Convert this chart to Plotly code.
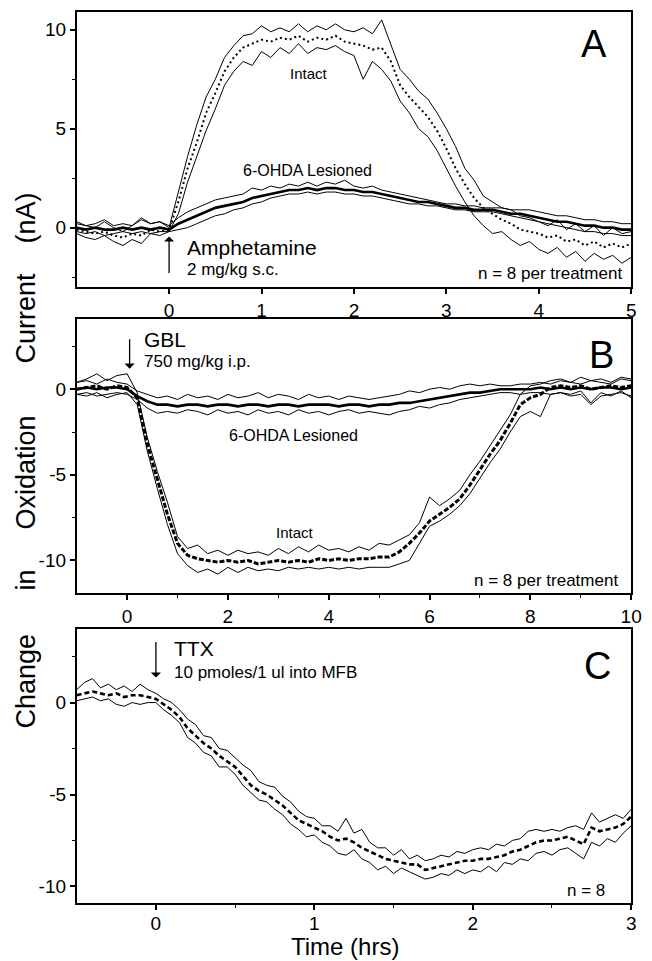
import plotly.graph_objects as go

# ---------------- Panel A (Amphetamine) ----------------
TIME_A = [-1.0,-0.9,-0.8,-0.7,-0.6,-0.5,-0.4,-0.3,-0.2,-0.1,0.0,
          0.1,0.2,0.3,0.4,0.5,0.6,0.7,0.8,0.9,1.0,
          1.1,1.2,1.3,1.4,1.5,1.6,1.7,1.8,1.9,2.0,
          2.1,2.2,2.3,2.4,2.5,2.6,2.7,2.8,2.9,3.0,
          3.1,3.2,3.3,3.4,3.5,3.6,3.7,3.8,3.9,4.0,
          4.1,4.2,4.3,4.4,4.5,4.6,4.7,4.8,4.9,5.0]
A_INTACT_MEAN = [-0.1,-0.2,-0.3,-0.2,-0.4,-0.5,-0.3,-0.4,-0.1,-0.2,-0.1,
                 1.3,3.0,4.3,5.8,6.8,7.9,8.6,9.1,9.3,9.5,
                 9.4,9.6,9.5,9.7,9.4,9.6,9.5,9.7,9.4,9.3,
                 9.2,9.0,9.1,8.4,7.2,6.6,6.1,5.6,4.9,4.0,
                 3.0,2.2,1.5,1.0,0.7,0.4,0.2,-0.1,-0.2,-0.3,
                 -0.5,-0.4,-0.7,-0.6,-0.9,-0.7,-1.0,-0.8,-1.0,-0.8]
A_INTACT_UP = [0.2,0.1,0.0,0.3,0.0,-0.2,0.1,0.4,0.2,0.3,0.0,
               1.8,3.6,5.2,6.6,7.5,8.6,9.2,9.7,9.8,10.2,
               9.9,10.1,9.9,10.3,9.9,10.2,10.0,10.3,10.0,9.9,
               10.1,9.8,10.5,9.2,8.0,7.5,6.9,6.5,5.8,5.0,
               4.1,3.0,2.4,1.6,1.3,1.0,0.9,0.6,0.5,0.3,
               0.1,0.4,-0.1,0.2,-0.2,0.1,-0.4,0.0,-0.3,-0.2]
A_INTACT_LO = [-0.3,-0.5,-0.6,-0.4,-0.7,-0.9,-0.6,-0.8,-0.3,-0.4,-0.2,
               0.7,2.3,3.6,4.9,6.0,7.2,7.9,8.4,8.2,8.9,
               8.6,9.1,8.8,9.3,8.8,9.1,9.0,9.2,8.9,8.7,
               7.5,8.4,8.0,7.4,6.4,5.8,5.0,4.6,3.9,3.0,
               2.1,1.3,0.6,0.1,-0.3,-0.2,-0.6,-0.9,-0.7,-1.1,
               -1.3,-1.0,-1.5,-1.2,-1.7,-1.3,-1.6,-1.4,-1.8,-1.5]
A_LES_MEAN = [0.0,-0.1,0.0,-0.1,-0.1,0.0,-0.1,0.0,-0.1,0.0,-0.1,
              0.2,0.4,0.6,0.8,1.0,1.1,1.2,1.3,1.5,1.6,
              1.7,1.8,1.9,1.9,2.0,1.9,2.0,2.0,1.9,1.9,
              1.8,1.8,1.7,1.6,1.5,1.4,1.3,1.3,1.2,1.1,
              1.0,1.0,0.9,0.9,0.9,0.8,0.7,0.7,0.6,0.5,
              0.4,0.3,0.3,0.2,0.1,0.1,0.0,0.0,-0.1,-0.1]
A_LES_UP = [0.3,0.1,0.2,0.4,0.1,0.2,0.1,0.5,0.2,0.3,0.1,
            0.5,0.8,1.0,1.2,1.4,1.5,1.6,1.7,2.0,1.9,
            2.1,2.0,2.2,2.1,2.3,2.1,2.3,2.2,2.4,2.1,
            2.0,2.1,1.9,1.8,1.7,1.6,1.5,1.4,1.3,1.2,
            1.2,1.1,1.1,1.0,1.0,1.0,0.9,0.9,0.9,0.8,
            0.7,0.6,0.6,0.5,0.4,0.4,0.3,0.3,0.2,0.2]
A_LES_LO = [-0.2,-0.3,-0.2,-0.4,-0.3,-0.2,-0.3,-0.2,-0.3,-0.2,-0.2,
            -0.1,0.0,0.2,0.4,0.6,0.7,0.9,1.0,1.2,1.3,
            1.5,1.6,1.7,1.7,1.8,1.7,1.8,1.8,1.7,1.7,
            1.6,1.6,1.5,1.4,1.3,1.2,1.2,1.1,1.1,1.0,
            0.9,0.9,0.8,0.8,0.8,0.7,0.6,0.5,0.4,0.3,
            0.2,0.1,0.0,-0.1,-0.2,-0.2,-0.3,-0.3,-0.4,-0.4]

# ---------------- Panel B (GBL) ----------------
TIME_B = [-1.0,-0.8,-0.6,-0.4,-0.2,0.0,
          0.2,0.4,0.6,0.8,1.0,1.2,1.4,1.6,1.8,2.0,
          2.2,2.4,2.6,2.8,3.0,3.2,3.4,3.6,3.8,4.0,
          4.2,4.4,4.6,4.8,5.0,5.2,5.4,5.6,5.8,6.0,
          6.2,6.4,6.6,6.8,7.0,7.2,7.4,7.6,7.8,8.0,
          8.2,8.4,8.6,8.8,9.0,9.2,9.4,9.6,9.8,10.0]
B_INTACT_MEAN = [0.0,0.1,0.2,0.0,0.2,0.1,
                 -0.5,-3.2,-5.3,-7.3,-9.0,-9.7,-9.9,-10.0,-10.1,-10.0,
                 -10.1,-10.0,-10.2,-10.1,-10.0,-10.1,-10.0,-10.1,-9.9,-10.0,
                 -9.9,-10.0,-9.9,-9.9,-9.8,-9.8,-9.5,-9.0,-8.4,-7.7,
                 -7.3,-6.9,-6.4,-5.6,-4.7,-3.8,-3.0,-2.0,-0.9,-0.5,
                 -0.3,0.1,0.2,0.1,0.2,0.0,0.1,0.2,0.1,0.2]
B_INTACT_UP = [0.4,0.6,0.9,0.5,0.8,0.9,
               -0.2,-2.8,-4.8,-6.6,-8.6,-9.3,-9.1,-9.6,-9.4,-9.7,
               -9.4,-9.6,-9.5,-9.7,-9.3,-9.6,-9.2,-9.5,-9.1,-9.4,
               -9.3,-9.5,-9.2,-9.4,-9.0,-9.1,-8.8,-8.5,-7.8,-6.3,
               -6.8,-6.4,-5.9,-5.0,-4.2,-3.3,-2.4,-1.5,-0.3,0.2,
               0.3,0.5,0.6,0.4,0.7,0.5,0.6,0.4,0.7,0.6]
B_INTACT_LO = [-0.3,-0.4,-0.2,-0.5,-0.3,-0.2,
               -0.9,-3.6,-5.8,-7.9,-9.6,-10.3,-10.7,-10.5,-10.8,-10.4,
               -10.7,-10.4,-10.6,-10.5,-10.6,-10.4,-10.5,-10.4,-10.5,-10.4,
               -10.5,-10.4,-10.5,-10.4,-10.4,-10.4,-10.2,-10.0,-9.0,-8.0,
               -7.7,-7.3,-6.8,-6.1,-5.2,-4.3,-3.5,-2.5,-1.6,-1.3,
               -1.6,-0.3,-0.2,-0.3,-0.1,-0.8,-0.2,-0.4,-0.1,-0.5]
B_LES_MEAN = [0.0,0.1,0.0,0.1,0.1,0.0,
              -0.4,-0.7,-0.9,-0.9,-1.0,-0.9,-0.9,-1.0,-0.9,-0.9,
              -1.0,-0.9,-0.9,-1.0,-0.9,-0.9,-1.0,-0.9,-0.9,-0.9,
              -1.0,-0.9,-0.9,-1.0,-0.9,-0.9,-0.8,-0.8,-0.7,-0.6,
              -0.5,-0.4,-0.3,-0.2,-0.2,-0.1,0.0,0.0,0.0,0.0,
              0.1,0.0,0.1,0.0,0.1,0.0,0.1,0.1,0.0,0.1]
B_LES_UP = [0.4,0.5,0.3,0.6,0.4,0.3,
            -0.1,-0.3,-0.5,-0.4,-0.6,-0.3,-0.5,-0.4,-0.6,-0.3,
            -0.5,-0.4,-0.2,-0.5,-0.3,-0.4,-0.6,-0.3,-0.5,-0.4,
            -0.6,-0.4,-0.5,-0.6,-0.5,-0.4,-0.3,-0.1,-0.2,0.0,
            0.1,0.0,0.2,0.3,0.2,0.3,0.2,0.2,0.3,0.3,
            0.4,0.3,0.5,0.4,0.3,0.5,0.4,0.3,0.6,0.5]
B_LES_LO = [-0.3,-0.2,-0.4,-0.3,-0.2,-0.3,
            -0.6,-1.1,-1.4,-1.3,-1.4,-1.2,-1.3,-1.5,-1.2,-1.4,
            -1.3,-1.5,-1.2,-1.4,-1.3,-1.5,-1.2,-1.4,-1.3,-1.5,
            -1.3,-1.2,-1.4,-1.3,-1.4,-1.5,-1.3,-1.2,-1.0,-1.1,
            -0.9,-0.8,-0.6,-0.5,-0.4,-0.3,-0.2,-0.2,-0.3,-0.2,
            -0.2,-0.3,-0.2,-0.4,-0.3,-0.9,-0.4,-0.3,-0.2,-0.4]

# ---------------- Panel C (TTX) ----------------
TIME_C = [-0.5,-0.45,-0.4,-0.35,-0.3,-0.25,-0.2,-0.15,-0.1,-0.05,0.0,
          0.05,0.1,0.15,0.2,0.25,0.3,0.35,0.4,0.45,0.5,
          0.55,0.6,0.65,0.7,0.75,0.8,0.85,0.9,0.95,1.0,
          1.05,1.1,1.15,1.2,1.25,1.3,1.35,1.4,1.45,1.5,
          1.55,1.6,1.65,1.7,1.75,1.8,1.85,1.9,1.95,2.0,
          2.05,2.1,2.15,2.2,2.25,2.3,2.35,2.4,2.45,2.5,
          2.55,2.6,2.65,2.7,2.75,2.8,2.85,2.9,2.95,3.0]
C_MEAN = [0.4,0.5,0.6,0.5,0.4,0.5,0.3,0.4,0.4,0.3,0.2,
          -0.1,-0.4,-0.8,-1.4,-1.8,-2.2,-2.5,-2.9,-3.2,-3.5,
          -4.0,-4.5,-4.8,-5.0,-5.3,-5.6,-6.0,-6.4,-6.6,-6.8,
          -7.0,-7.3,-7.5,-7.4,-7.6,-7.9,-8.1,-8.3,-8.5,-8.6,
          -8.7,-8.8,-8.8,-9.1,-9.0,-8.9,-8.8,-8.7,-8.6,-8.6,
          -8.5,-8.5,-8.4,-8.3,-8.1,-8.0,-7.8,-7.6,-7.5,-7.5,
          -7.4,-7.3,-7.5,-7.7,-6.8,-7.0,-6.9,-6.8,-6.6,-6.2]
C_UP = [0.7,1.1,1.3,0.8,1.0,0.7,0.9,0.6,1.0,0.7,0.5,
        0.2,0.0,-0.4,-0.9,-1.2,-1.8,-1.9,-2.5,-2.6,-3.0,
        -3.4,-3.7,-4.3,-4.5,-4.6,-5.1,-5.4,-5.9,-6.2,-6.3,
        -6.7,-6.7,-7.0,-6.3,-7.1,-6.9,-7.6,-7.9,-7.9,-8.3,
        -8.0,-8.5,-8.3,-8.6,-8.5,-8.3,-8.4,-8.1,-8.2,-8.0,
        -7.9,-8.0,-7.7,-7.8,-7.5,-7.4,-7.0,-6.9,-7.0,-6.9,
        -7.0,-6.8,-6.7,-6.9,-6.0,-6.5,-6.3,-6.1,-6.3,-5.8]
C_LO = [0.1,0.2,0.3,0.1,0.2,-0.1,-0.2,0.0,-0.1,0.0,0.0,
        -0.4,-0.7,-1.1,-1.9,-2.2,-2.7,-2.9,-3.5,-3.5,-3.9,
        -4.5,-4.9,-5.3,-5.4,-5.8,-6.1,-6.6,-6.9,-7.3,-7.2,
        -7.6,-7.8,-8.2,-8.3,-8.0,-8.5,-8.7,-9.1,-8.9,-9.3,
        -9.0,-9.2,-9.4,-9.6,-9.5,-9.3,-9.4,-9.1,-9.3,-9.1,
        -9.2,-8.9,-9.2,-8.7,-8.8,-8.5,-8.6,-8.2,-8.1,-8.3,
        -8.0,-7.9,-8.2,-8.5,-7.6,-7.8,-7.4,-7.6,-7.1,-6.7]

# tick labels
A_XTICKS = [0, 1, 2, 3, 4, 5]
A_YTICKS = [0, 5, 10]
B_XTICKS = [0, 2, 4, 6, 8, 10]
B_YTICKS = [-10, -5, 0]
C_XTICKS = [0, 1, 2, 3]
C_YTICKS = [-10, -5, 0]

FONT = "Liberation Sans, Arial, Helvetica, sans-serif"
W, H = 652, 961

fig = go.Figure()

def add_group(t, lo, up, mean, xa, ya, mean_style):
    for arr in (up, lo):
        assert len(arr) == len(t)
        fig.add_trace(go.Scatter(x=t, y=arr, mode="lines", xaxis=xa, yaxis=ya,
                                 line=dict(color="black", width=1), showlegend=False,
                                 hoverinfo="skip"))
    assert len(mean) == len(t)
    fig.add_trace(go.Scatter(x=t, y=mean, mode="lines", xaxis=xa, yaxis=ya,
                             line=mean_style, showlegend=False))

add_group(TIME_A, A_LES_LO, A_LES_UP, A_LES_MEAN, "x", "y",
          dict(color="black", width=2.6))
add_group(TIME_A, A_INTACT_LO, A_INTACT_UP, A_INTACT_MEAN, "x", "y",
          dict(color="black", width=2, dash="2px,3px"))
add_group(TIME_B, B_LES_LO, B_LES_UP, B_LES_MEAN, "x2", "y2",
          dict(color="black", width=2.6))
add_group(TIME_B, B_INTACT_LO, B_INTACT_UP, B_INTACT_MEAN, "x2", "y2",
          dict(color="black", width=3, dash="5px,2px"))
add_group(TIME_C, C_LO, C_UP, C_MEAN, "x3", "y3",
          dict(color="black", width=2.6, dash="5px,3px"))

def px_x(p):
    return p / W

def px_y(p):
    return 1 - p / H

def fmt(v):
    return str(v)

def axis(domain, rng, vals, minor_vals, anchor, standoff=0):
    return dict(domain=domain, range=rng, anchor=anchor,
                tickmode="array", tickvals=vals, ticktext=[fmt(v) for v in vals],
                ticks="outside", ticklen=5, tickwidth=1.5, tickcolor="black",
                ticklabelstandoff=standoff,
                showline=True, mirror=True, linecolor="black", linewidth=1.6,
                showgrid=False, zeroline=False,
                tickfont=dict(family=FONT, size=19, color="black"),
                minor=dict(tickmode="array", tickvals=minor_vals, ticks="outside",
                           ticklen=3, tickwidth=1.2, tickcolor="black", showgrid=False))

XDOM = [px_x(78), px_x(642)]
layout = dict(
    width=W, height=H, margin=dict(l=0, r=0, t=0, b=0),
    paper_bgcolor="white", plot_bgcolor="white", showlegend=False,
    font=dict(family=FONT, color="black"),
    xaxis=axis(XDOM, [-1, 5], A_XTICKS, [], "y"),
    yaxis=axis([px_y(287), px_y(12)], [-3, 10.9], A_YTICKS, [-2.5, 2.5, 7.5], "x"),
    xaxis2=axis(XDOM, [-1, 10], B_XTICKS, [1, 3, 5, 7, 9], "y2"),
    yaxis2=axis([px_y(593), px_y(319)], [-11.9, 4.1], B_YTICKS, [-7.5, -2.5, 2.5], "x2"),
    xaxis3=axis(XDOM, [-0.5, 3], C_XTICKS, [0.5, 1.5, 2.5], "y3", standoff=-3),
    yaxis3=axis([px_y(903), px_y(629)], [-10.9, 4.0], C_YTICKS, [-7.5, -2.5, 2.5], "x3"),
)
fig.update_layout(**layout)

ann = []
def txt(x, y, s, size, xref, yref, xanchor="center", yanchor="middle", angle=0):
    ann.append(dict(x=x, y=y, text=s, xref=xref, yref=yref, showarrow=False,
                    xanchor=xanchor, yanchor=yanchor, textangle=angle,
                    font=dict(family=FONT, size=size, color="black")))

def arrow(x, y_tip, ay_px, xref, yref):
    ann.append(dict(x=x, y=y_tip, xref=xref, yref=yref, ax=0, ay=ay_px,
                    showarrow=True, arrowhead=1, arrowsize=1.3, arrowwidth=1.3,
                    arrowcolor="black", text=""))

# Panel A
txt(4.60, 9.3, "A", 38, "x", "y")
txt(1.51, 7.8, "Intact", 15, "x", "y")
txt(1.50, 2.9, "6-OHDA Lesioned", 16, "x", "y")
arrow(0, -0.45, 38, "x", "y")
txt(0.17, -1.0, "Amphetamine", 21, "x", "y", xanchor="left")
txt(0.17, -2.1, "2 mg/kg s.c.", 17, "x", "y", xanchor="left")
txt(4.92, -2.32, "n = 8 per treatment", 17, "x", "y", xanchor="right")

# Panel B
txt(9.41, 2.0, "B", 38, "x2", "y2")
arrow(0.05, 1.2, -31, "x2", "y2")
txt(0.29, 2.92, "GBL", 21, "x2", "y2", xanchor="left")
txt(0.29, 1.64, "750 mg/kg i.p.", 17, "x2", "y2", xanchor="left")
txt(3.31, -2.69, "6-OHDA Lesioned", 16, "x2", "y2")
txt(3.33, -8.36, "Intact", 15, "x2", "y2")
txt(9.78, -11.17, "n = 8 per treatment", 17, "x2", "y2", xanchor="right")

# Panel C
txt(2.79, 2.0, "C", 38, "x3", "y3")
arrow(0, 1.36, -37, "x3", "y3")
txt(0.10, 2.93, "TTX", 21, "x3", "y3", xanchor="left")
txt(0.10, 1.63, "10 pmoles/1 ul into MFB", 17, "x3", "y3", xanchor="left")
txt(2.85, -10.2, "n = 8", 17, "x3", "y3", xanchor="right")

# Axis titles
txt(px_x(351), px_y(962), "Time (hrs)", 24, "paper", "paper", yanchor="bottom")
for word, ypx in [("(nA)", 218), ("Current", 318), ("Oxidation", 473),
                  ("in", 580), ("Change", 681)]:
    txt(px_x(26), px_y(ypx), word, 27, "paper", "paper", angle=-90)

fig.update_layout(annotations=ann)
fig.write_html("out.html")
